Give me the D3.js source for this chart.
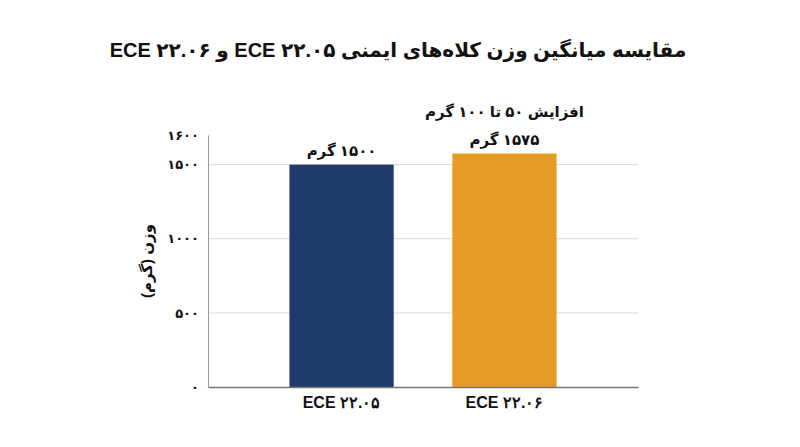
<!DOCTYPE html>
<html lang="fa">
<head>
<meta charset="utf-8">
<script src="https://cdn.jsdelivr.net/npm/d3@7"></script>
<style>
  html, body { margin: 0; padding: 0; background: #fff; }
  svg { display: block; font-family: "Liberation Sans", "DejaVu Sans", sans-serif; }
</style>
</head>
<body>
<svg width="800" height="447"></svg>
<script>
// data
const categories = ['ECE ۲۲.۰۵', 'ECE ۲۲.۰۶']
const weights = [1500, 1575]
const barLabels = [['۱۵۰۰ گرم'], ['افزایش ۵۰ تا ۱۰۰ گرم', '۱۵۷۵ گرم']]
const barColors = ['#1f3a6b', '#e59b26']
const tickValues = [0, 500, 1000, 1500, 1700]
const tickLabels = ['۰', '۵۰۰', '۱۰۰۰', '۱۵۰۰', '۱۶۰۰']
const gridValues = [500, 1000, 1500]
const yMax = 1700

const svg = d3.select('svg')
const margin = { top: 135, right: 162, bottom: 60, left: 208 }
const width = 800 - margin.left - margin.right
const height = 447 - margin.top - margin.bottom

svg.append('text')
    .attr('x', 398)
    .attr('y', 57)
    .attr('text-anchor', 'middle')
    .attr('direction', 'rtl')
    .attr('font-size', 20)
    .attr('font-weight', 'bold')
    .attr('fill', '#111')
    .text('مقایسه میانگین وزن کلاه‌های ایمنی ECE ۲۲.۰۵ و ECE ۲۲.۰۶')

const g = svg.append('g')
    .attr('transform', `translate(${margin.left}, ${margin.top})`)

const x = d3.scaleBand()
    .domain(categories)
    .range([0, width])
    .paddingInner(0.36)
    .paddingOuter(0.5)

const y = d3.scaleLinear()
    .domain([0, yMax])
    .range([height, 0])

// grid
g.append('g')
  .selectAll('line')
  .data(gridValues)
  .enter().append('line')
    .attr('x1', 0)
    .attr('x2', width)
    .attr('y1', d => y(d))
    .attr('y2', d => y(d))
    .attr('stroke', '#d9d9d9')
    .attr('stroke-width', 1)

// bars
g.append('g')
  .selectAll('rect')
  .data(weights)
  .enter().append('rect')
    .attr('x', (d, i) => x(categories[i]))
    .attr('y', d => y(d))
    .attr('width', x.bandwidth())
    .attr('height', d => height - y(d))
    .attr('fill', (d, i) => barColors[i])

// value labels
g.append('g')
  .selectAll('g')
  .data(weights)
  .enter().append('g')
  .each(function(d, i) {
    const lines = barLabels[i]
    d3.select(this).selectAll('text')
      .data(lines)
      .enter().append('text')
        .attr('x', x(categories[i]) + x.bandwidth() / 2)
        .attr('y', (l, j) => y(d) - 9 - (lines.length - 1 - j) * 28)
        .attr('text-anchor', 'middle')
        .attr('direction', 'rtl')
        .attr('font-size', 15)
        .attr('font-weight', 'bold')
        .attr('fill', '#111')
        .text(l => l)
  })

// y axis
const yAxis = g.append('g')
    .call(d3.axisLeft(y)
      .tickValues(tickValues)
      .tickSize(0)
      .tickPadding(9)
      .tickFormat((d, i) => tickLabels[i]))
yAxis.select('.domain').attr('stroke', '#999')
yAxis.selectAll('text')
    .attr('font-size', 13)
    .attr('font-weight', 'bold')
    .attr('fill', '#111')
    .attr('font-family', '"DejaVu Sans", sans-serif')

// x axis
const xAxis = g.append('g')
    .attr('transform', `translate(0, ${height})`)
    .call(d3.axisBottom(x).tickSize(0).tickPadding(10))
xAxis.select('.domain').attr('stroke', '#777').attr('stroke-width', 1.3)
xAxis.selectAll('text')
    .attr('font-size', 16)
    .attr('font-weight', 'bold')
    .attr('fill', '#111')
    .attr('direction', 'ltr')

// y axis title
svg.append('text')
    .attr('transform', 'translate(152, 261) rotate(-90)')
    .attr('text-anchor', 'middle')
    .attr('direction', 'rtl')
    .attr('font-size', 15)
    .attr('font-weight', 'bold')
    .attr('fill', '#111')
    .text('وزن (گرم)')
</script>
</body>
</html>
